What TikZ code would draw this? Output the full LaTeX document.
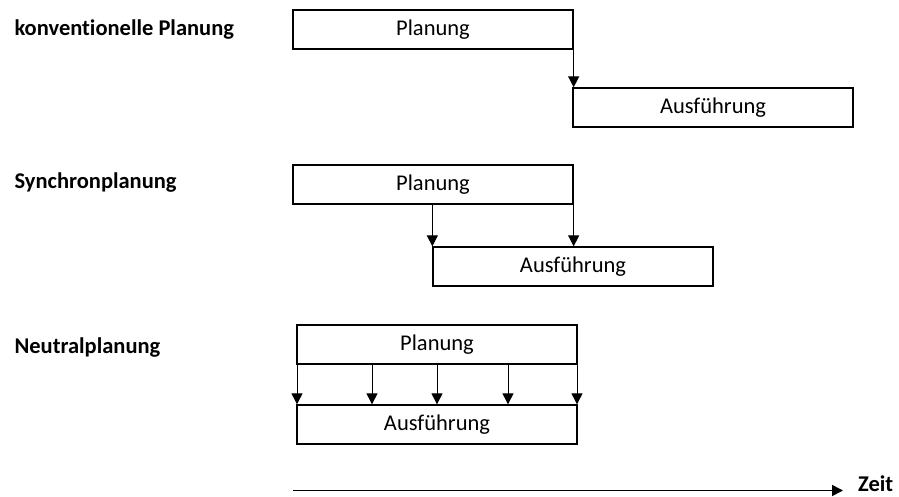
\documentclass[tikz,border=0pt]{standalone}
\usepackage{fontspec}
\setmainfont{Carlito}[Ligatures=NoCommon]
\usetikzlibrary{arrows.meta}

\begin{document}
\begin{tikzpicture}[x=1pt, y=-1pt, font=\fontsize{22.5}{27}\selectfont,
	phase/.style={draw, line width=1.3pt, minimum width=280pt, minimum height=39pt, inner sep=0pt},
	label/.style={anchor=west, font=\fontsize{22.5}{27}\selectfont\bfseries},
	flow/.style={-{Triangle[width=11pt, length=11pt]}, line width=1pt}]
		\useasboundingbox (0,0) rectangle (899,497);

		% konventionelle Planung
		\node [label] (lab1) at (11,30) {konventionelle Planung};
		\node [phase] (plan1) at (433,29.5) {Planung};
		\node [phase] (ausf1) at (713,107.5) {Ausführung};
		\draw [flow] (plan1.south east) -- (plan1.south east |- ausf1.north);

		% Synchronplanung
		\node [label] (lab2) at (11,183) {Synchronplanung};
		\node [phase] (plan2) at (433,184.5) {Planung};
		\node [phase] (ausf2) at (573,266.5) {Ausführung};
		\draw [flow] (ausf2.north west |- plan2.south) -- (ausf2.north west);
		\draw [flow] (plan2.south east) -- (plan2.south east |- ausf2.north);

		% Neutralplanung
		\node [label] (lab3) at (11,348) {Neutralplanung};
		\node [phase] (plan3) at (437,344.5) {Planung};
		\node [phase] (ausf3) at (437,424.5) {Ausführung};
		\foreach \x in {297,372,437,508,577}
			\draw [flow] (\x,0 |- plan3.south) -- (\x,0 |- ausf3.north);

		% Zeitachse
		\coordinate (t0) at (293,490.5);
		\node [label, anchor=base west, inner sep=0pt] (zeit) at (858,491) {Zeit};
		\draw [flow, line width=1.6pt] (t0) -- (t0 -| zeit.west) [shorten >=15pt];
	\end{tikzpicture}
\end{document}
